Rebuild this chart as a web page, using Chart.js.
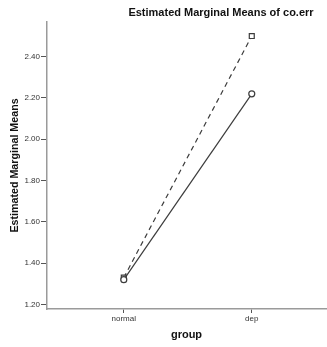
<!DOCTYPE html>
<html>
<head>
<meta charset="utf-8">
<script src="https://cdn.jsdelivr.net/npm/chart.js@4.4.1/dist/chart.umd.min.js"></script>
<style>
  html, body { margin: 0; padding: 0; background: #fff; }
  #wrap { width: 327px; height: 347px; position: relative; }
</style>
</head>
<body>
<div id="wrap"><canvas id="chartCanvas"></canvas></div>
<script>
// chart data
const categories = ['normal', 'dep'];
const seriesSolid = [1.32, 2.22];   // circle markers
const seriesDashed = [1.33, 2.50];  // square markers
const yTicks = [1.20, 1.40, 1.60, 1.80, 2.00, 2.20, 2.40];

const chartTitle = 'Estimated Marginal Means of co.err';
const lineColor = '#3c3c3c';
const axisColor = '#9a9a9a';
const fontFamily = '"Liberation Sans", Arial, sans-serif';

// title is drawn off-centre, like the SPSS output
const headerTitle = {
    id: 'headerTitle',
    afterDraw(chart) {
        const ctx = chart.ctx;
        ctx.save();
        ctx.font = 'bold 11px ' + fontFamily;
        ctx.fillStyle = '#111';
        ctx.textAlign = 'center';
        ctx.textBaseline = 'middle';
        ctx.fillText(chartTitle, 221, 13);
        ctx.restore();
    }
};

const toPoints = (vals) => vals.map((v, i) => ({ x: i, y: v }));

new Chart(document.getElementById('chartCanvas'), {
    type: 'line',
    data: {
        datasets: [
            {
                label: 'solid',
                data: toPoints(seriesSolid),
                borderColor: lineColor,
                borderWidth: 1.2,
                pointStyle: 'circle',
                pointRadius: 3,
                pointBackgroundColor: '#fff',
                pointBorderColor: lineColor,
                pointBorderWidth: 1.2
            },
            {
                label: 'dashed',
                data: toPoints(seriesDashed),
                borderColor: lineColor,
                borderWidth: 1.2,
                borderDash: [5, 4],
                pointStyle: 'rect',
                pointRadius: 3.5,
                pointBackgroundColor: '#fff',
                pointBorderColor: lineColor,
                pointBorderWidth: 1.2
            }
        ]
    },
    options: {
        responsive: true,
        maintainAspectRatio: false,
        animation: false,
        layout: {
            autoPadding: false,
            padding: { top: 22, right: 1, left: 0, bottom: 0 }
        },
        plugins: {
            legend: { display: false },
            tooltip: { enabled: false }
        },
        scales: {
            x: {
                type: 'linear',
                min: -0.6,
                max: 1.58,
                afterBuildTicks: (scale) => {
                    scale.ticks = categories.map((c, i) => ({ value: i }));
                },
                afterFit: (scale) => {
                    scale.height = 38;
                    scale.paddingLeft = 0;
                    scale.paddingRight = 0;
                },
                ticks: {
                    color: '#333',
                    font: { family: fontFamily, size: 8 },
                    padding: 1,
                    maxRotation: 0,
                    callback: (v) => categories[v]
                },
                grid: {
                    drawOnChartArea: false,
                    tickLength: 4,
                    color: '#555'
                },
                border: { color: axisColor, width: 1.5 },
                title: {
                    display: true,
                    text: 'group',
                    color: '#111',
                    font: { family: fontFamily, size: 11, weight: 'bold' },
                    padding: { top: 0, bottom: 5.4 }
                }
            },
            y: {
                min: 1.178,
                max: 2.568,
                afterBuildTicks: (scale) => {
                    scale.ticks = yTicks.map(v => ({ value: v }));
                },
                afterFit: (scale) => {
                    scale.width = 47;
                    scale.paddingTop = 0;
                    scale.paddingBottom = 0;
                },
                ticks: {
                    color: '#333',
                    font: { family: fontFamily, size: 8 },
                    padding: 1,
                    callback: (v) => v.toFixed(2)
                },
                grid: {
                    drawOnChartArea: false,
                    tickLength: 6,
                    color: '#555'
                },
                border: { color: axisColor, width: 1.5 },
                title: {
                    display: true,
                    text: 'Estimated Marginal Means',
                    color: '#111',
                    font: { family: fontFamily, size: 10.7, weight: 'bold' },
                    padding: { top: 8.4, bottom: 0 }
                }
            }
        }
    },
    plugins: [headerTitle]
});
</script>
</body>
</html>
